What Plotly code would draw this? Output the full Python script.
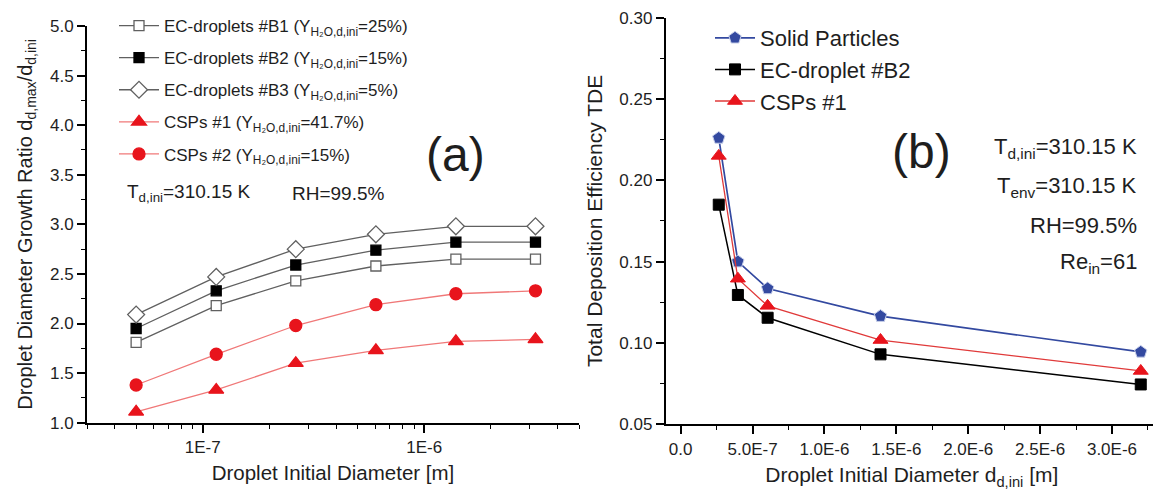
import plotly.graph_objects as go
import numpy as np

# ---------- panel (a) data ----------
d_ini_a = [5.0e-8, 1.15e-7, 2.63e-7, 6.05e-7, 1.39e-6, 3.18e-6]
ec_b1 = [1.81, 2.18, 2.43, 2.58, 2.65, 2.65]
ec_b2 = [1.95, 2.33, 2.59, 2.74, 2.82, 2.82]
ec_b3 = [2.09, 2.47, 2.75, 2.90, 2.98, 2.98]
csp1_a = [1.11, 1.33, 1.60, 1.73, 1.82, 1.84]
csp2_a = [1.38, 1.69, 1.98, 2.19, 2.30, 2.33]

names_a = [
    "EC-droplets #B1 (Y<sub>H₂O,d,ini</sub>=25%)",
    "EC-droplets #B2 (Y<sub>H₂O,d,ini</sub>=15%)",
    "EC-droplets #B3 (Y<sub>H₂O,d,ini</sub>=5%)",
    "CSPs #1 (Y<sub>H₂O,d,ini</sub>=41.7%)",
    "CSPs #2 (Y<sub>H₂O,d,ini</sub>=15%)",
]
xticks_a = [1e-7, 1e-6]
xticklabels_a = ["1E-7", "1E-6"]

# ---------- panel (b) data ----------
d_ini_b = [2.65e-7, 3.98e-7, 6.05e-7, 1.39e-6, 3.2e-6]
solid_b = [0.226, 0.150, 0.1335, 0.1165, 0.0945]
ecb2_b = [0.185, 0.1295, 0.1155, 0.093, 0.0745]
csp1_b = [0.215, 0.1395, 0.1228, 0.1018, 0.0828]
names_b = ["Solid Particles", "EC-droplet #B2", "CSPs #1"]
xticks_b = [0.0, 5e-7, 1e-6, 1.5e-6, 2e-6, 2.5e-6, 3e-6]
xticklabels_b = ["0.0", "5.0E-7", "1.0E-6", "1.5E-6", "2.0E-6", "2.5E-6", "3.0E-6"]

FONT = "Liberation Sans, Arial, sans-serif"
TXT = "#1e1e1e"
GRAY = "#606060"
RED = "#e8141c"
LRED = "#f07878"
BLUE = "#3349a0"

fig = go.Figure()

def add_a(i, y, symbol, fill, edge, line, size):
    fig.add_trace(go.Scatter(
        x=d_ini_a, y=y, name=names_a[i], mode="lines+markers",
        xaxis="x", yaxis="y", legend="legend", legendgroup="a%d" % i,
        line=dict(color=line, width=1.3),
        marker=dict(symbol=symbol, size=size, color=fill,
                    line=dict(color=edge, width=1.3)),
    ))

add_a(0, ec_b1, "square", "white", GRAY, GRAY, 10)
add_a(1, ec_b2, "square", "black", "black", GRAY, 10)
add_a(2, ec_b3, "diamond", "white", GRAY, GRAY, 13)
add_a(3, csp1_a, "triangle-up", RED, RED, LRED, 13)
add_a(4, csp2_a, "circle", RED, RED, LRED, 12)

def add_b(i, y, symbol, color, line, size, lw):
    fig.add_trace(go.Scatter(
        x=d_ini_b, y=y, name=names_b[i], mode="lines+markers",
        xaxis="x2", yaxis="y2", legend="legend2", legendgroup="b%d" % i,
        line=dict(color=line, width=lw),
        marker=dict(symbol=symbol, size=size, color=color,
                    line=dict(color="#c8d0ea" if color == BLUE else color, width=1)),
    ))

add_b(0, solid_b, "pentagon", BLUE, BLUE, 13, 1.7)
add_b(1, ecb2_b, "square", "black", "black", 11, 1.5)
add_b(2, csp1_b, "triangle-up", RED, "#e03a3a", 13, 1.3)

W, H = 1161, 494
OFF = 8  # page body margin offset
def px(xp):
    return (xp - OFF) / W
def py(yp):
    return 1 - (yp - OFF) / H

axis_common = dict(
    showline=True, linecolor="black", linewidth=1.8,
    ticks="outside", ticklen=8, tickwidth=1.5, tickcolor="black",
    showgrid=False, zeroline=False, automargin=False,
    tickfont=dict(family=FONT, size=17, color=TXT),
)
minor_common = dict(ticks="outside", ticklen=4, tickwidth=1.3, tickcolor="black", showgrid=False)

fig.update_layout(
    width=W, height=H,
    margin=dict(l=0, r=0, t=0, b=0),
    paper_bgcolor="white", plot_bgcolor="white",
    font=dict(family=FONT, color=TXT),
    xaxis=dict(
        **axis_common, type="log", domain=[px(87), px(579)],
        range=[np.log10(3.0e-8), np.log10(5.0e-6)],
        tickvals=xticks_a, ticktext=xticklabels_a,
        minor=dict(**minor_common, dtick="D1"),
        anchor="y",
        title=dict(text="Droplet Initial Diameter [m]",
                   font=dict(family=FONT, size=20.5, color=TXT), standoff=10),
    ),
    yaxis=dict(
        **axis_common, domain=[py(422.7), py(26)], range=[1.0, 5.0],
        dtick=0.5, tickformat=".1f",
        minor=dict(**minor_common, dtick=0.25),
        anchor="x",
        title=dict(text="Droplet Diameter Growth Ratio d<sub>d,max</sub>/d<sub>d,ini</sub>",
                   font=dict(family=FONT, size=20, color=TXT), standoff=12),
    ),
    xaxis2=dict(
        **axis_common, domain=[px(665.7), px(1158)],
        range=[-1.04e-7, 3.32e-6],
        tickvals=xticks_b, ticktext=xticklabels_b,
        minor=dict(**minor_common, dtick=2.5e-7, tick0=0),
        anchor="y2",
        title=dict(text="Droplet Initial Diameter d<sub>d,ini</sub> [m]",
                   font=dict(family=FONT, size=21, color=TXT), standoff=10),
    ),
    yaxis2=dict(
        **axis_common, domain=[py(424.3), py(17.6)], range=[0.05, 0.30],
        dtick=0.05, tickformat=".2f",
        minor=dict(**minor_common, dtick=0.025),
        anchor="x2",
        title=dict(text="Total Deposition Efficiency TDE",
                   font=dict(family=FONT, size=21, color=TXT), standoff=11),
    ),
    legend=dict(
        x=px(114), y=py(8), xanchor="left", yanchor="top",
        bgcolor="rgba(0,0,0,0)", font=dict(family=FONT, size=17, color=TXT),
        tracegroupgap=7, itemwidth=40,
    ),
    legend2=dict(
        x=px(710), y=py(17), xanchor="left", yanchor="top",
        bgcolor="rgba(0,0,0,0)", font=dict(family=FONT, size=22, color=TXT),
        tracegroupgap=0, itemwidth=40,
    ),
    showlegend=True,
)

ann_font = dict(family=FONT, size=19, color=TXT)
fig.add_annotation(text="T<sub>d,ini</sub>=310.15 K", xref="paper", yref="paper",
                   x=px(125), y=py(193), xanchor="left", yanchor="middle", showarrow=False, font=ann_font)
fig.add_annotation(text="RH=99.5%", xref="paper", yref="paper",
                   x=px(290), y=py(193), xanchor="left", yanchor="middle", showarrow=False, font=ann_font)
fig.add_annotation(text="(a)", xref="paper", yref="paper", x=px(455), y=py(154),
                   xanchor="center", yanchor="middle", showarrow=False,
                   font=dict(family=FONT, size=48, color=TXT))
fig.add_annotation(text="(b)", xref="paper", yref="paper", x=px(921), y=py(151),
                   xanchor="center", yanchor="middle", showarrow=False,
                   font=dict(family=FONT, size=48, color=TXT))
right_lines = [("T<sub>d,ini</sub>=310.15 K", 148), ("T<sub>env</sub>=310.15 K", 187),
               ("RH=99.5%", 225), ("Re<sub>in</sub>=61", 263)]
for t, yy in right_lines:
    fig.add_annotation(text=t, xref="paper", yref="paper", x=px(1139), y=py(yy),
                       xanchor="right", yanchor="middle", showarrow=False,
                       font=dict(family=FONT, size=22, color=TXT))

fig.write_html("out.html")
